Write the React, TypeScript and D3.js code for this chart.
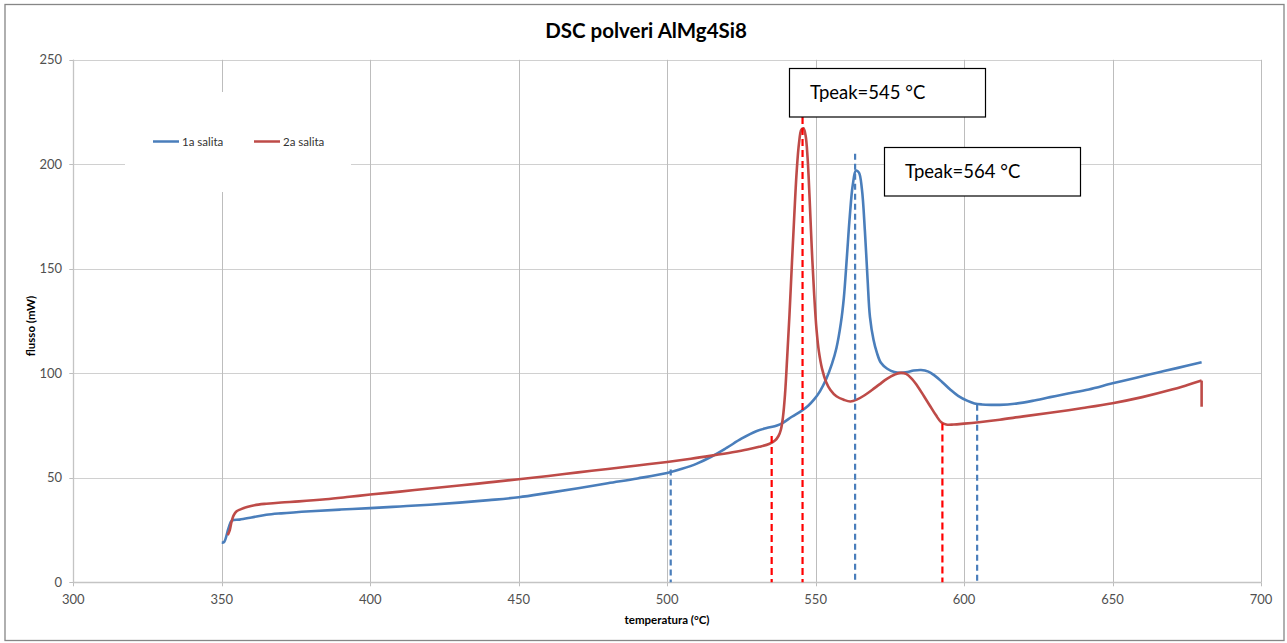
import React from "react";
import * as d3 from "d3";

const title = "DSC polveri AlMg4Si8";
const xLabel = "temperatura (°C)";
const yLabel = "flusso (mW)";
const xTicks = [300, 350, 400, 450, 500, 550, 600, 650, 700];
const yTicks = [0, 50, 100, 150, 200, 250];
const seriesNames = ["1a salita", "2a salita"];

// 1a salita (blue)
const blueT = [350, 350.8, 352.3, 353.4, 356, 360, 365, 370, 380, 390, 400, 410, 420, 430, 440, 450, 460, 470, 480, 490, 500, 505, 510, 515, 520, 525, 530, 533.5, 537, 539, 542, 545, 547.5, 549.5, 551.5, 553.5, 555.5, 557, 558.5, 559.5, 560.5, 561.5, 562.5, 563.6, 564.6, 565.6, 566.6, 567.5, 568.3, 569.5, 570.6, 572, 574, 576.5, 578.5, 581, 583, 585.5, 588, 590, 592.5, 595.5, 598, 601, 603.5, 606, 609, 612, 617, 623, 629, 635, 642, 650, 658, 665, 672, 680];
const blueV = [19, 19.3, 26, 29.5, 30, 31, 32.3, 33, 34, 34.8, 35.5, 36.3, 37.1, 38.1, 39.3, 40.7, 42.8, 45, 47.4, 49.7, 52.3, 54.3, 56.8, 60.2, 64.3, 68.7, 72.3, 73.8, 75, 76.3, 79.2, 81.8, 84.5, 87.5, 91.5, 97, 104.5, 112, 124, 136, 155, 175, 190, 197, 196, 188, 168, 145, 127, 116, 110, 105, 102.3, 100.6, 100.2, 100.6, 101.3, 101.6, 100.8, 99, 96, 92, 89.2, 86.9, 85.6, 85.1, 84.9, 84.9, 85.4, 86.8, 88.6, 90.3, 92.3, 95.2, 97.9, 100.3, 102.6, 105.3];

// 2a salita (red)
const redT = [352, 352.7, 353.3, 354, 355, 356.5, 358.5, 361, 365, 370, 376, 385, 393, 400, 410, 420, 430, 440, 450, 460, 470, 480, 490, 500, 508, 515, 522, 527, 531, 534.5, 536.3, 537.5, 538.3, 539, 539.7, 540.4, 541.2, 542, 542.8, 543.6, 544.4, 545.2, 545.9, 546.6, 547.3, 548, 548.7, 549.5, 550.3, 551.1, 552.2, 553.5, 555, 557, 559.5, 561.7, 564, 566.5, 569, 571.5, 574, 576.5, 578.5, 580.5, 582.5, 584.5, 586.5, 588.5, 590.5, 592.3, 594, 596.5, 600, 605, 612, 620, 629, 640, 650, 660, 670, 675, 680, 680];
const redV = [22.6, 25, 29, 32, 34, 35, 36, 36.9, 37.6, 38.2, 38.7, 39.7, 40.9, 42, 43.4, 44.9, 46.3, 47.8, 49.3, 50.9, 52.6, 54.2, 55.9, 57.6, 59.1, 60.6, 62.2, 63.5, 64.8, 66.3, 67.8, 70, 73, 79, 90, 107, 128, 152, 175, 196, 210, 216.5, 217.2, 214, 203, 183, 160, 138, 121, 110.5, 102, 96, 92, 89, 87.3, 86.5, 87.5, 89.5, 92, 94.7, 97.3, 99.3, 100.2, 99.7, 97.2, 93.5, 89, 84.5, 80, 76.6, 75.5, 75.5, 75.9, 76.6, 77.8, 79.4, 81.1, 83.4, 85.7, 88.6, 92.2, 94.3, 96.5, 84];

// marker lines
const redMarkers = [535.2, 545.6, 592.7];
const redMarkerTops = [70, 222, 76];
const blueMarkers = [501.2, 563.3, 604.4];
const blueMarkerTops = [54, 205, 85];

const peakLabels = ["Tpeak=545 °C", "Tpeak=564 °C"];

const W = 1287;
const H = 643;
const FONT = "Lato, 'Open Sans', sans-serif";
const BLUE = "#4a7ebb";
const RED = "#be4b48";

export default function App() {
  const x = d3.scaleLinear().domain([300, 700]).range([73.3, 1261]);
  const y = d3.scaleLinear().domain([0, 250]).range([582.3, 59.8]);

  const smooth = d3
    .line<[number, number]>()
    .x((d) => x(d[0]))
    .y((d) => y(d[1]))
    .curve(d3.curveCatmullRom.alpha(0.5));
  const straight = d3
    .line<[number, number]>()
    .x((d) => x(d[0]))
    .y((d) => y(d[1]));

  const blueData: [number, number][] = blueT.map((t, i) => [t, blueV[i]]);
  const redData: [number, number][] = redT.map((t, i) => [t, redV[i]]);
  const redMain = redData.slice(0, redData.length - 1);
  const redTail = redData.slice(redData.length - 2);

  const legBox = { x0: 125, x1: 351, y0: 92, y1: 192 };

  return (
    <div style={{ position: "absolute", left: 0, top: 0 }}>
      <svg width={W} height={H} style={{ display: "block", fontFamily: FONT }}>
        <rect x={0} y={0} width={W} height={H} fill="#fff" />
        <rect x={5} y={4.5} width={1279} height={636} fill="#fff" stroke="#868686" strokeWidth={1.3} />

        {yTicks.map((t) => (
          <line key={"hy" + t} x1={x(300)} x2={x(700)} y1={Math.round(y(t)) + 0.5} y2={Math.round(y(t)) + 0.5} stroke="#d0d0d0" strokeWidth={1.2} />
        ))}
        {xTicks.map((t) => (
          <line key={"vx" + t} x1={Math.round(x(t)) + 0.5} x2={Math.round(x(t)) + 0.5} y1={y(250)} y2={y(0)} stroke="#bdbdbd" strokeWidth={1} />
        ))}
        {yTicks.map((t) => (
          <line key={"ty" + t} x1={x(300) - 4} x2={x(300)} y1={Math.round(y(t)) + 0.5} y2={Math.round(y(t)) + 0.5} stroke="#bdbdbd" />
        ))}
        {xTicks.map((t) => (
          <line key={"tx" + t} x1={Math.round(x(t)) + 0.5} x2={Math.round(x(t)) + 0.5} y1={y(0)} y2={y(0) + 4} stroke="#bdbdbd" />
        ))}
        <line x1={x(300)} x2={x(700)} y1={Math.round(y(0)) + 0.5} y2={Math.round(y(0)) + 0.5} stroke="#c4c4c4" strokeWidth={1.3} />
        <line x1={Math.round(x(300)) + 0.5} x2={Math.round(x(300)) + 0.5} y1={y(250)} y2={y(0)} stroke="#c4c4c4" strokeWidth={1.3} />

        {yTicks.map((t) => (
          <text key={"ly" + t} x={62} y={y(t) + 4.5} textAnchor="end" fontSize={13} fill="#505050">
            {t}
          </text>
        ))}
        {xTicks.map((t) => (
          <text key={"lx" + t} x={x(t)} y={604} textAnchor="middle" fontSize={13} fill="#505050">
            {t}
          </text>
        ))}

        <rect x={legBox.x0} y={legBox.y0} width={legBox.x1 - legBox.x0} height={legBox.y1 - legBox.y0} fill="#fff" />
        <line x1={153} x2={179} y1={141.5} y2={141.5} stroke={BLUE} strokeWidth={2.5} />
        <text x={182} y={145.5} fontSize={11.5} fill="#333">{seriesNames[0]}</text>
        <line x1={254} x2={280} y1={141.5} y2={141.5} stroke={RED} strokeWidth={2.5} />
        <text x={283} y={145.5} fontSize={11.5} fill="#333">{seriesNames[1]}</text>

        <path d={smooth(blueData) || ""} fill="none" stroke={BLUE} strokeWidth={2.6} strokeLinejoin="round" />
        <path d={smooth(redMain) || ""} fill="none" stroke={RED} strokeWidth={2.6} strokeLinejoin="round" />
        <path d={straight(redTail) || ""} fill="none" stroke={RED} strokeWidth={2.6} />

        {blueMarkers.map((t, i) => (
          <line key={"bm" + i} x1={x(t)} x2={x(t)} y1={y(blueMarkerTops[i])} y2={y(0)} stroke={BLUE} strokeWidth={2.2} strokeDasharray="6 4" />
        ))}
        {redMarkers.map((t, i) => (
          <line key={"rm" + i} x1={x(t)} x2={x(t)} y1={i === 1 ? 117 : y(redMarkerTops[i])} y2={y(0)} stroke="#ff0000" strokeWidth={2.2} strokeDasharray="7 4" />
        ))}

        <rect x={789.5} y={68.5} width={196} height={48.5} fill="#fff" stroke="#000" strokeWidth={1.2} />
        <text x={810} y={99} fontSize={18.5} fill="#000">{peakLabels[0]}</text>
        <rect x={884.5} y={147.5} width={196} height={48.5} fill="#fff" stroke="#000" strokeWidth={1.2} />
        <text x={905} y={177.5} fontSize={18.5} fill="#000">{peakLabels[1]}</text>

        <text x={646} y={38} textAnchor="middle" fontSize={20.5} fontWeight="bold" fill="#000">
          {title}
        </text>
        <text x={667} y={624} textAnchor="middle" fontSize={11.5} fontWeight="bold" fill="#000">
          {xLabel}
        </text>
        <text transform={`translate(35,326) rotate(-90)`} textAnchor="middle" fontSize={11.5} fontWeight="bold" fill="#000">
          {yLabel}
        </text>
      </svg>
    </div>
  );
}
